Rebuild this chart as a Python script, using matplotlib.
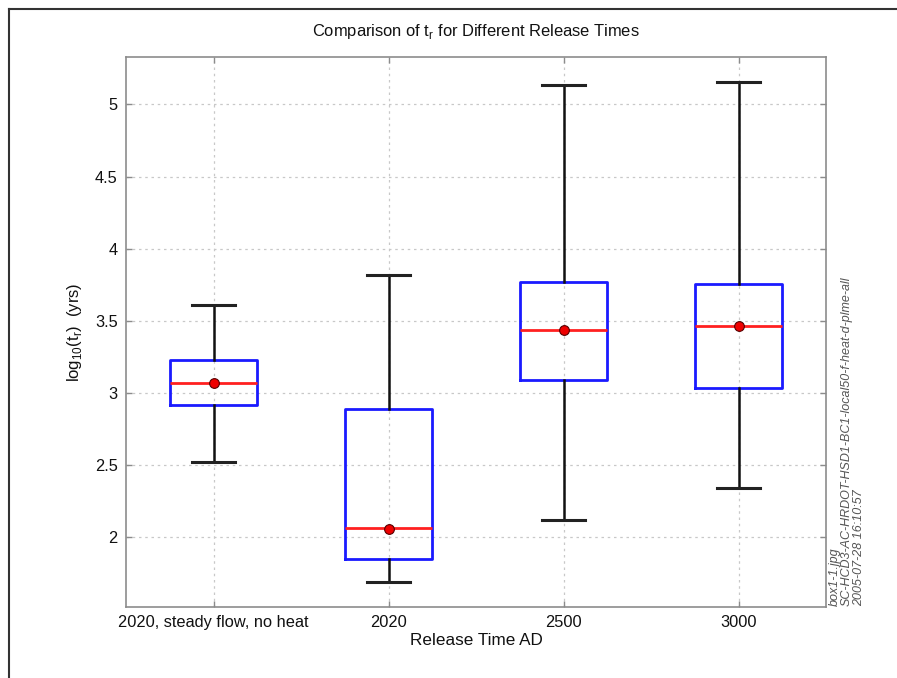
import matplotlib
matplotlib.use("Agg")
import matplotlib.pyplot as plt
from matplotlib.lines import Line2D

plt.rcParams['font.family'] = ['Liberation Sans', 'DejaVu Sans']

# log10 travel-time statistics per release scenario
categories = ["2020, steady flow, no heat", "2020", "2500", "3000"]
whisker_low = [2.524, 1.695, 2.123, 2.34]
q1 = [2.92, 1.85, 3.093, 3.037]
median = [3.072, 2.065, 3.435, 3.465]
q3 = [3.232, 2.887, 3.768, 3.759]
whisker_high = [3.611, 3.819, 5.132, 5.155]
mean = [3.072, 2.062, 3.437, 3.467]

yticks = [2, 2.5, 3, 3.5, 4, 4.5, 5]
ytick_labels = ["2", "2.5", "3", "3.5", "4", "4.5", "5"]

fig = plt.figure(figsize=(8.97, 6.78), dpi=100)
ax = fig.add_axes([126 / 897, 1 - 606.5 / 678, 700 / 897, 549.5 / 678])

stats = []
for i, lab in enumerate(categories):
    stats.append(dict(label=lab, whislo=whisker_low[i], q1=q1[i], med=median[i],
                      q3=q3[i], whishi=whisker_high[i], fliers=[]))

positions = list(range(1, len(categories) + 1))
ax.bxp(stats, positions=positions, widths=0.5, showfliers=False,
       boxprops=dict(color='#1a1aff', linewidth=2.0),
       medianprops=dict(color='#ff2020', linewidth=2.0),
       whiskerprops=dict(color='#111111', linewidth=1.8),
       capprops=dict(color='#222222', linewidth=2.2),
       capwidths=0.25, zorder=3)
ax.plot(positions, mean, linestyle='none', marker='o', markersize=7,
        markerfacecolor='#ee0000', markeredgecolor='#550000',
        markeredgewidth=0.8, zorder=5)

lo, hi = min(whisker_low), max(whisker_high)
pad = 0.05 * (hi - lo)
ax.set_ylim(lo - pad, hi + pad)
ax.set_xlim(0.5, len(categories) + 0.5)
ax.set_xticks(positions)
ax.set_xticklabels(categories)
ax.set_yticks(yticks)
ax.set_yticklabels(ytick_labels)

ax.grid(True, linestyle=(0, (2, 3)), color='#c8c8c8', linewidth=0.9, zorder=0)
ax.set_axisbelow(True)
for s in ax.spines.values():
    s.set_color('#8c8c8c')
    s.set_linewidth(1.2)
ax.tick_params(direction='in', length=4, width=1, color='#8c8c8c',
               labelsize=11.8, labelcolor='#111111', top=True, right=True,
               pad=6)

ax.set_title(r"Comparison of t$_\mathregular{r}$ for Different Release Times",
             fontsize=11.9, color='#111111', pad=15)
ax.set_xlabel("Release Time AD", fontsize=12.3, color='#111111', labelpad=2)
ax.set_ylabel(r"log$_\mathregular{10}$(t$_\mathregular{r}$)  (yrs)",
              fontsize=12, color='#111111', labelpad=8)

# file stamp along the right edge
stamp = ["box1-1.jpg",
         "SC-HCD3-AC-HRDOT-HSD1-BC1-local50-f-heat-d-plme-all",
         "2005-07-28 16:10:57"]
for k, line in enumerate(stamp):
    fig.text((835 + 12 * k) / 897, 1 - 606 / 678, line, rotation=90,
             fontsize=9, color='#555555', style='italic',
             ha='center', va='bottom')

# page frame
fig.add_artist(Line2D([8.5 / 897, 1.0], [1 - 9 / 678, 1 - 9 / 678],
                      transform=fig.transFigure, color='#333333', linewidth=1.5))
fig.add_artist(Line2D([8.5 / 897, 8.5 / 897], [0, 1 - 9 / 678],
                      transform=fig.transFigure, color='#333333', linewidth=1.5))

fig.savefig("out.png", dpi=100, facecolor='white')
